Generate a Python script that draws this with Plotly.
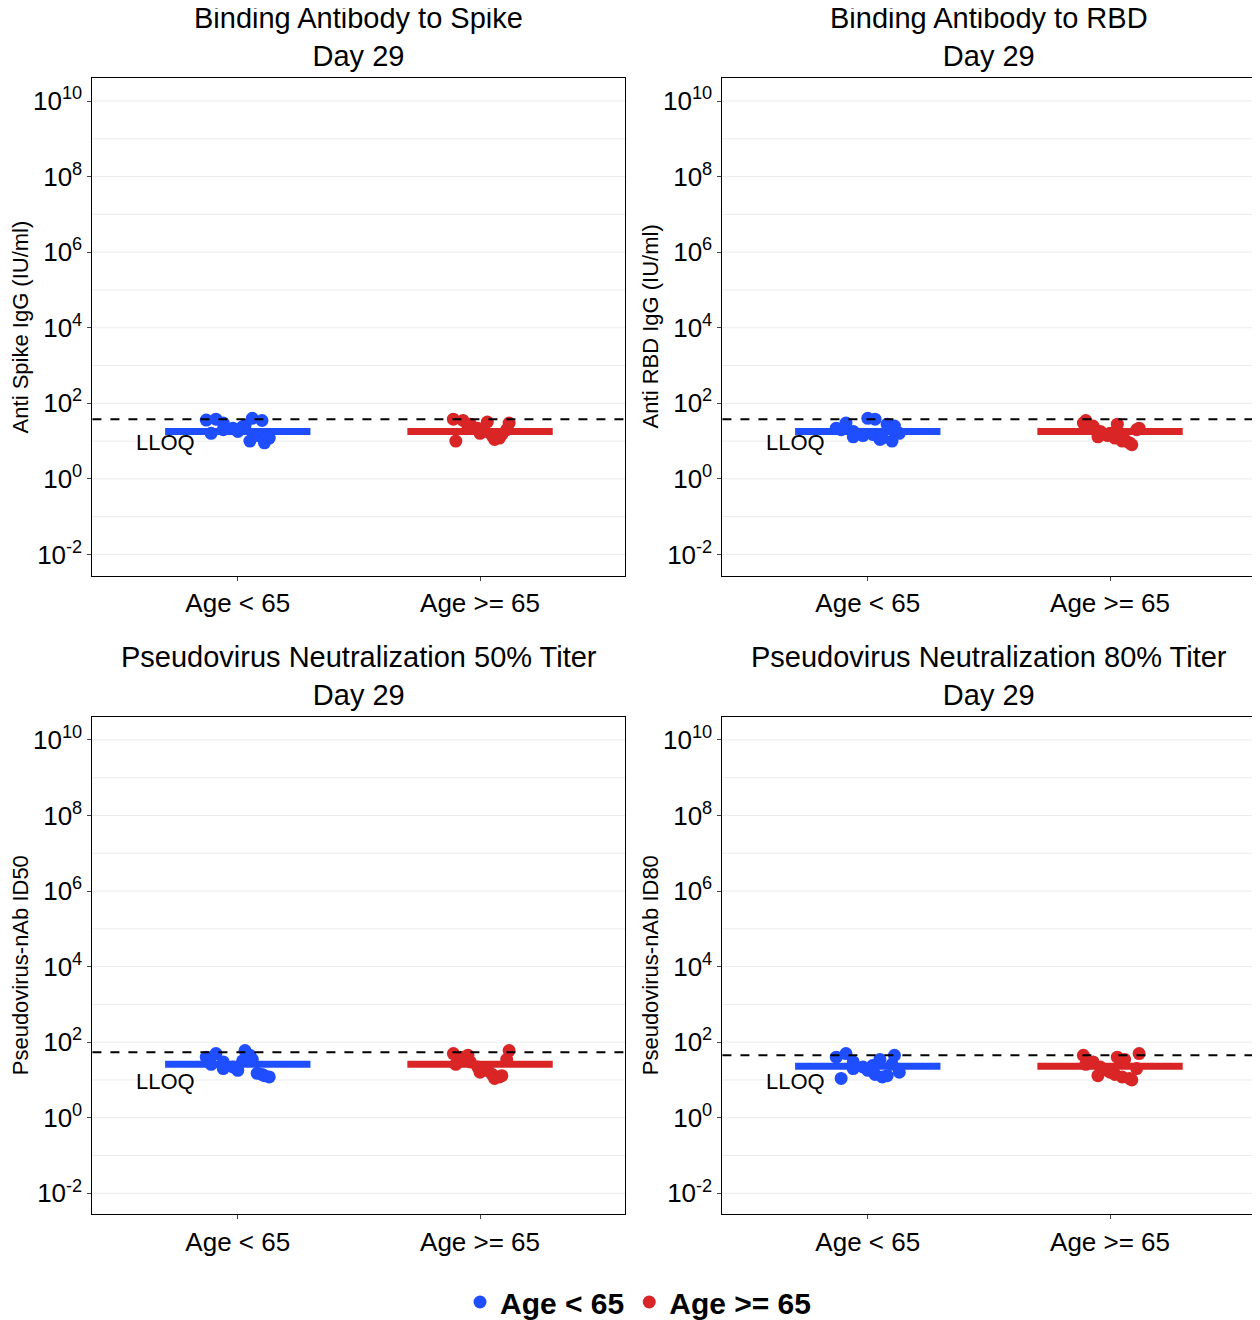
import plotly.graph_objects as go

titles = ["Binding Antibody to Spike<br>Day 29", "Binding Antibody to RBD<br>Day 29",
          "Pseudovirus Neutralization 50% Titer<br>Day 29", "Pseudovirus Neutralization 80% Titer<br>Day 29"]
y_titles = ["Anti Spike IgG (IU/ml)", "Anti RBD IgG (IU/ml)", "Pseudovirus-nAb ID50", "Pseudovirus-nAb ID80"]
groups = ["Age < 65", "Age >= 65"]
colors = ["#1F4EFF", "#D92525"]
lloq = [38, 38, 54, 45]
medians = [[18, 18], [18, 18], [26, 26], [23, 23]]

# jittered points per panel, per group: x offset and value
jit_young = [-0.13, -0.09, -0.06, -0.02, 0.0, 0.03, 0.06, 0.1, 0.13, -0.11, 0.05, 0.11, -0.06, 0.08, 0.02]
jit_old = [-0.11, -0.07, -0.04, -0.01, 0.02, 0.05, 0.08, 0.12, -0.1, 0.0, 0.06, 0.11, -0.05, 0.03, 0.09]
vals = [
    [[36, 38, 30, 22, 18, 26, 40, 35, 12, 16, 10, 9, 20, 14, 24],
     [38, 35, 28, 22, 18, 14, 12, 30, 10, 16, 11, 20, 25, 32, 15]],
    [[22, 30, 18, 14, 40, 38, 12, 10, 16, 20, 11, 25, 13, 28, 15],
     [30, 25, 18, 14, 12, 10, 9, 22, 35, 16, 11, 20, 13, 28, 8]],
    [[40, 50, 30, 22, 18, 60, 35, 14, 12, 26, 45, 13, 20, 15, 32],
     [50, 40, 30, 22, 18, 14, 12, 60, 26, 16, 11, 35, 45, 20, 13]],
    [[40, 50, 30, 22, 18, 14, 12, 26, 16, 11, 35, 45, 20, 13, 24],
     [45, 30, 22, 18, 14, 12, 11, 50, 26, 16, 35, 20, 13, 40, 10]],
]

xdom = [[0.067, 0.49], [0.567, 0.99]]
ydom = [[0.57, 0.947], [0.086, 0.463]]
tickvals = [10 ** k for k in range(-2, 11, 2)]
ticktext = ["10<sup>%d</sup>" % k for k in range(-2, 11, 2)]
grid_vals = [10 ** k for k in range(-3, 12)]

fig = go.Figure()
annotations = []
shapes = []
layout = {}
for p in range(4):
    r, c = divmod(p, 2)
    n = p + 1
    xa = "x" if n == 1 else "x%d" % n
    ya = "y" if n == 1 else "y%d" % n
    for g in range(2):
        xc = g + 1
        fig.add_trace(go.Scatter(x=[xc - 0.3, xc + 0.3], y=[medians[p][g]] * 2, mode="lines",
                                 line=dict(color=colors[g], width=7), xaxis=xa, yaxis=ya,
                                 showlegend=False, hoverinfo="skip"))
        jit = jit_young if g == 0 else jit_old
        fig.add_trace(go.Scatter(x=[xc + j for j in jit], y=vals[p][g], mode="markers",
                                 marker=dict(color=colors[g], size=13), xaxis=xa, yaxis=ya,
                                 name=groups[g], legendgroup=groups[g], showlegend=(p == 0)))
    layout["xaxis" if n == 1 else "xaxis%d" % n] = dict(
        domain=xdom[c], anchor=ya, range=[0.4, 2.6], tickvals=[1, 2], ticktext=groups,
        showgrid=False, zeroline=False, showline=True, mirror=True, linecolor="black",
        ticks="outside", ticklen=4, tickfont=dict(size=26, color="black"))
    layout["yaxis" if n == 1 else "yaxis%d" % n] = dict(
        domain=ydom[r], anchor=xa, type="log", range=[-2.56, 10.61],
        tickvals=tickvals, ticktext=ticktext, showgrid=False, zeroline=False,
        showline=True, mirror=True, linecolor="black", ticks="outside", ticklen=4,
        tickfont=dict(size=26, color="black"))
    for gv in grid_vals:
        shapes.append(dict(type="line", xref="%s domain" % xa, yref=ya, x0=0, x1=1, y0=gv, y1=gv,
                           line=dict(color="#EBEBEB", width=1), layer="below"))
    shapes.append(dict(type="line", xref="%s domain" % xa, yref=ya, x0=0, x1=1,
                       y0=lloq[p], y1=lloq[p], line=dict(color="black", width=2, dash="dash")))
    annotations.append(dict(text="LLOQ", xref=xa, yref=ya, x=0.7, y=0.95, yanchor="middle",
                            showarrow=False, font=dict(size=22, color="black"), xanchor="center"))
    annotations.append(dict(text=titles[p], xref="paper", yref="paper",
                            x=sum(xdom[c]) / 2, y=ydom[r][1] + 0.003, yanchor="bottom",
                            xanchor="center", showarrow=False, font=dict(size=29, color="black")))
    annotations.append(dict(text=y_titles[p], xref="paper", yref="paper", textangle=-90,
                            x=xdom[c][0] - 0.057, y=sum(ydom[r]) / 2, showarrow=False,
                            xanchor="center", yanchor="middle", font=dict(size=22, color="black")))

fig.update_layout(
    width=1260, height=1320, margin=dict(l=0, r=0, t=0, b=0),
    plot_bgcolor="white", paper_bgcolor="white",
    font=dict(family="Liberation Sans, Arial", color="black"),
    annotations=annotations, shapes=shapes,
    legend=dict(orientation="h", x=0.5, xanchor="center", y=0.0, yanchor="bottom",
                font=dict(size=30, color="black", weight="bold"), itemwidth=30),
    **layout)
fig.write_html("out.html")
